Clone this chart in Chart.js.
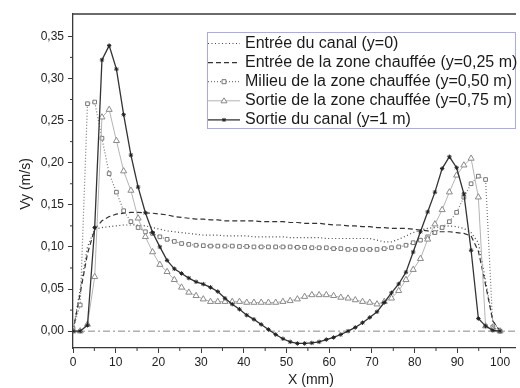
<!DOCTYPE html>
<html>
<head>
<meta charset="utf-8">
<script src="https://cdn.jsdelivr.net/npm/chart.js@4.4.1/dist/chart.umd.min.js"></script>
<style>
  body { margin: 0; background: white; }
  #chart { display: block; }
</style>
</head>
<body>
<canvas id="chart" width="520" height="388"></canvas>
<script>
// Vy profiles across the channel (X in mm, Vy in m/s)

const X_MM = [
    0, 1.69, 3.39, 5.08, 6.78, 8.47, 10.17, 11.86, 13.56, 15.25,
    16.95, 18.64, 20.34, 22.03, 23.73, 25.42, 27.12, 28.81, 30.51, 32.2,
    33.9, 35.59, 37.29, 38.98, 40.68, 42.37, 44.07, 45.76, 47.46, 49.15,
    50.85, 52.54, 54.24, 55.93, 57.63, 59.32, 61.02, 62.71, 64.41, 66.1,
    67.8, 69.49, 71.19, 72.88, 74.58, 76.27, 77.97, 79.66, 81.36, 83.05,
    84.75, 86.44, 88.14, 89.83, 91.53, 93.22, 94.92, 96.61, 98.31, 100
];

// Entrée du canal (y=0)
const VY_ENTREE_CANAL = [
    0, 0.05, 0.10, 0.121, 0.123, 0.124, 0.125, 0.126, 0.126, 0.126,
    0.125, 0.123, 0.121, 0.119, 0.118, 0.117, 0.116, 0.115, 0.114, 0.114,
    0.114, 0.113, 0.113, 0.113, 0.113, 0.112, 0.112, 0.112, 0.112, 0.112,
    0.111, 0.111, 0.111, 0.111, 0.111, 0.110, 0.110, 0.110, 0.110, 0.110,
    0.110, 0.110, 0.108, 0.106, 0.106, 0.109, 0.113, 0.117, 0.120, 0.122,
    0.123, 0.124, 0.125, 0.124, 0.122, 0.117, 0.105, 0.06, 0.012, 0
];

// Entrée de la zone chauffée (y=0,25 m)
const VY_ENTREE_ZONE = [
    0, 0.045, 0.092, 0.121, 0.131, 0.136, 0.139, 0.140, 0.141, 0.141,
    0.1405, 0.140, 0.139, 0.138, 0.136, 0.135, 0.134, 0.133, 0.133, 0.132,
    0.132, 0.131, 0.131, 0.131, 0.131, 0.131, 0.130, 0.130, 0.130, 0.130,
    0.129, 0.129, 0.128, 0.128, 0.128, 0.127, 0.126, 0.126, 0.125, 0.125,
    0.124, 0.124, 0.123, 0.123, 0.122, 0.122, 0.122, 0.121, 0.120, 0.119,
    0.118, 0.118, 0.118, 0.117, 0.116, 0.113, 0.095, 0.055, 0.012, 0
];

// Milieu de la zone chauffée (y=0,50 m)
const VY_MILIEU_ZONE = [
    0.003, 0.031, 0.270, 0.272, 0.229, 0.187, 0.165, 0.143, 0.130, 0.123,
    0.118, 0.116, 0.112, 0.109, 0.1065, 0.104, 0.103, 0.102, 0.1015, 0.101,
    0.101, 0.101, 0.101, 0.1005, 0.1005, 0.100, 0.100, 0.100, 0.100, 0.100,
    0.100, 0.0995, 0.0995, 0.099, 0.099, 0.099, 0.098, 0.098, 0.097, 0.097,
    0.097, 0.097, 0.097, 0.098, 0.099, 0.100, 0.102, 0.105, 0.108, 0.112,
    0.117, 0.123, 0.130, 0.141, 0.159, 0.175, 0.184, 0.180, 0.005, 0
];

// Sortie de la zone chauffée (y=0,75 m)
const VY_SORTIE_ZONE = [
    0, 0, 0.008, 0.0645, 0.254, 0.263, 0.226, 0.190, 0.167, 0.134,
    0.112, 0.094, 0.079, 0.0705, 0.061, 0.052, 0.046, 0.042, 0.038, 0.035,
    0.035, 0.035, 0.035, 0.035, 0.034, 0.034, 0.034, 0.034, 0.034, 0.035,
    0.036, 0.038, 0.041, 0.043, 0.043, 0.043, 0.042, 0.040, 0.039, 0.037,
    0.035, 0.034, 0.032, 0.035, 0.039, 0.048, 0.061, 0.073, 0.086, 0.109,
    0.127, 0.144, 0.165, 0.185, 0.197, 0.205, 0.159, 0.006, 0.002, 0
];

// Sortie du canal (y=1 m)
const VY_SORTIE_CANAL = [
    0, 0, 0.007, 0.123, 0.322, 0.339, 0.311, 0.257, 0.209, 0.171,
    0.1405, 0.117, 0.100, 0.084, 0.074, 0.0685, 0.063, 0.0586, 0.0558, 0.052,
    0.047, 0.039, 0.032, 0.026, 0.019, 0.014, 0.008, 0.002, -0.004, -0.009,
    -0.0127, -0.0146, -0.0146, -0.014, -0.0127, -0.010, -0.0075, -0.004, 0.0, 0.0044,
    0.010, 0.0163, 0.023, 0.034, 0.0455, 0.056, 0.070, 0.094, 0.118, 0.1415,
    0.165, 0.193, 0.207, 0.194, 0.163, 0.096, 0.015, 0.006, 0.001, 0
];

const SERIES_LABELS = [
    'Entrée du canal (y=0)',
    'Entrée de la zone chauffée (y=0,25 m)',
    'Milieu de la zone chauffée (y=0,50 m)',
    'Sortie de la zone chauffée (y=0,75 m)',
    'Sortie du canal (y=1 m)'
];

const X_TICKS = [0, 10, 20, 30, 40, 50, 60, 70, 80, 90, 100];
const X_MINOR = [5, 15, 25, 35, 45, 55, 65, 75, 85, 95];
const Y_TICKS = [0, 0.05, 0.10, 0.15, 0.20, 0.25, 0.30, 0.35];
const Y_MINOR = [0.025, 0.075, 0.125, 0.175, 0.225, 0.275, 0.325];

const FONT = '"Liberation Sans", Arial, sans-serif';
const AXIS_COLOR = '#3a3a3a';

function toPoints(values) {
    return X_MM.map((x, i) => ({ x: x, y: values[i] }));
}

// line + marker look shared by the curves and the legend
const STYLES = [
    { color: '#444', width: 1.2, dash: [1, 2.5], marker: null, markerColor: '#444' },
    { color: '#333', width: 1.2, dash: [5, 3], marker: null, markerColor: '#333' },
    { color: '#777', width: 1.2, dash: [1, 2], marker: 'rect', markerColor: '#777' },
    { color: '#b4b4b4', width: 1, dash: [], marker: 'triangle', markerColor: '#8a8a8a' },
    { color: '#333', width: 1.3, dash: [], marker: 'star', markerColor: '#222' }
];

const SERIES_VALUES = [VY_ENTREE_CANAL, VY_ENTREE_ZONE, VY_MILIEU_ZONE, VY_SORTIE_ZONE, VY_SORTIE_CANAL];

const datasets = SERIES_VALUES.map((values, i) => {
    const s = STYLES[i];
    return {
        label: SERIES_LABELS[i],
        data: toPoints(values),
        borderColor: s.color,
        borderWidth: s.width,
        borderDash: s.dash,
        tension: 0,
        pointStyle: s.marker || 'circle',
        pointRadius: s.marker ? (s.marker === 'triangle' ? 3.5 : (s.marker === 'star' ? 2.2 : 2.6)) : 0,
        pointBorderColor: s.markerColor,
        pointBackgroundColor: s.marker === 'star' ? s.markerColor : '#fff',
        pointBorderWidth: 1,
        order: 5 - i
    };
});

function drawMarker(ctx, type, x, y, color) {
    ctx.save();
    ctx.setLineDash([]);
    ctx.strokeStyle = color;
    ctx.fillStyle = '#fff';
    ctx.lineWidth = 1;
    ctx.beginPath();
    if (type === 'rect') {
        ctx.rect(x - 2, y - 2, 4, 4);
        ctx.fill();
        ctx.stroke();
    } else if (type === 'triangle') {
        ctx.moveTo(x, y - 3);
        ctx.lineTo(x + 3, y + 2);
        ctx.lineTo(x - 3, y + 2);
        ctx.closePath();
        ctx.fill();
        ctx.stroke();
    } else if (type === 'star') {
        ctx.moveTo(x - 2, y); ctx.lineTo(x + 2, y);
        ctx.moveTo(x, y - 2); ctx.lineTo(x, y + 2);
        ctx.moveTo(x - 1.5, y - 1.5); ctx.lineTo(x + 1.5, y + 1.5);
        ctx.moveTo(x - 1.5, y + 1.5); ctx.lineTo(x + 1.5, y - 1.5);
        ctx.stroke();
    }
    ctx.restore();
}

// frame, zero line, minor ticks, axis titles and the boxed legend
const decorations = {
    id: 'decorations',
    beforeDatasetsDraw(chart) {
        const { ctx, chartArea, scales } = chart;
        const y0 = scales.y.getPixelForValue(0);
        ctx.save();
        ctx.strokeStyle = '#888';
        ctx.lineWidth = 1;
        ctx.setLineDash([7, 3, 2, 3]);
        ctx.beginPath();
        ctx.moveTo(chartArea.left, y0);
        ctx.lineTo(chartArea.right, y0);
        ctx.stroke();
        ctx.restore();
    },
    afterDraw(chart) {
        const { ctx, chartArea, scales } = chart;
        ctx.save();
        ctx.strokeStyle = AXIS_COLOR;
        ctx.lineWidth = 1.3;
        ctx.beginPath();
        ctx.moveTo(chartArea.left, chartArea.top);
        ctx.lineTo(chartArea.right + 1, chartArea.top);
        ctx.stroke();

        ctx.lineWidth = 1;
        ctx.beginPath();
        X_MINOR.forEach(v => {
            const px = scales.x.getPixelForValue(v);
            ctx.moveTo(px, chartArea.bottom);
            ctx.lineTo(px, chartArea.bottom + 3);
        });
        Y_MINOR.forEach(v => {
            const py = scales.y.getPixelForValue(v);
            ctx.moveTo(chartArea.left, py);
            ctx.lineTo(chartArea.left - 3, py);
        });
        ctx.stroke();

        ctx.fillStyle = '#222';
        ctx.font = '14px ' + FONT;
        ctx.textAlign = 'center';
        ctx.textBaseline = 'middle';
        ctx.fillText('X (mm)', 311, 380);
        ctx.translate(26, 184);
        ctx.rotate(-Math.PI / 2);
        ctx.fillText('Vy (m/s)', 0, 0);
        ctx.restore();

        // legend box
        const box = { left: 207, top: 32, right: 515, bottom: 128 };
        ctx.save();
        ctx.fillStyle = '#fff';
        ctx.fillRect(box.left, box.top, box.right - box.left, box.bottom - box.top);
        ctx.strokeStyle = '#a9a9ee';
        ctx.lineWidth = 1;
        ctx.strokeRect(box.left + 0.5, box.top + 0.5, box.right - box.left, box.bottom - box.top);
        ctx.font = '16px ' + FONT;
        ctx.textAlign = 'left';
        ctx.textBaseline = 'middle';
        SERIES_LABELS.forEach((label, i) => {
            const s = STYLES[i];
            const ly = 43.5 + i * 19.1;
            ctx.strokeStyle = s.color;
            ctx.lineWidth = s.width;
            ctx.setLineDash(s.dash);
            ctx.beginPath();
            ctx.moveTo(box.left + 1, ly);
            ctx.lineTo(box.left + 33, ly);
            ctx.stroke();
            if (s.marker) drawMarker(ctx, s.marker, box.left + 17, ly, s.markerColor);
            ctx.setLineDash([]);
            ctx.fillStyle = '#1a1a1a';
            ctx.fillText(label, box.left + 38, ly);
        });
        ctx.restore();
    }
};

new Chart(document.getElementById('chart'), {
    type: 'line',
    data: { datasets: datasets },
    options: {
        responsive: false,
        animation: false,
        layout: { padding: { top: 14, right: 1, left: 0, bottom: 0 } },
        plugins: {
            legend: { display: false },
            tooltip: { enabled: false }
        },
        scales: {
            x: {
                type: 'linear',
                min: 0,
                max: 103.5,
                afterFit: scale => { scale.height = 40; },
                afterBuildTicks: scale => { scale.ticks = X_TICKS.map(v => ({ value: v })); },
                ticks: {
                    color: '#222',
                    font: { family: FONT, size: 12 },
                    padding: 2,
                    maxRotation: 0,
                    autoSkip: false
                },
                grid: { drawOnChartArea: false, tickLength: 5, color: AXIS_COLOR, tickWidth: 1 },
                border: { color: AXIS_COLOR, width: 1.3 }
            },
            y: {
                min: -0.02,
                max: 0.3765,
                afterFit: scale => { scale.width = 73; },
                afterBuildTicks: scale => { scale.ticks = Y_TICKS.map(v => ({ value: v })); },
                ticks: {
                    color: '#222',
                    font: { family: FONT, size: 12 },
                    padding: 4,
                    callback: v => v.toFixed(2).replace('.', ',')
                },
                grid: { drawOnChartArea: false, tickLength: 5, color: AXIS_COLOR, tickWidth: 1 },
                border: { color: AXIS_COLOR, width: 1.3 }
            }
        }
    },
    plugins: [decorations]
});
</script>
</body>
</html>
